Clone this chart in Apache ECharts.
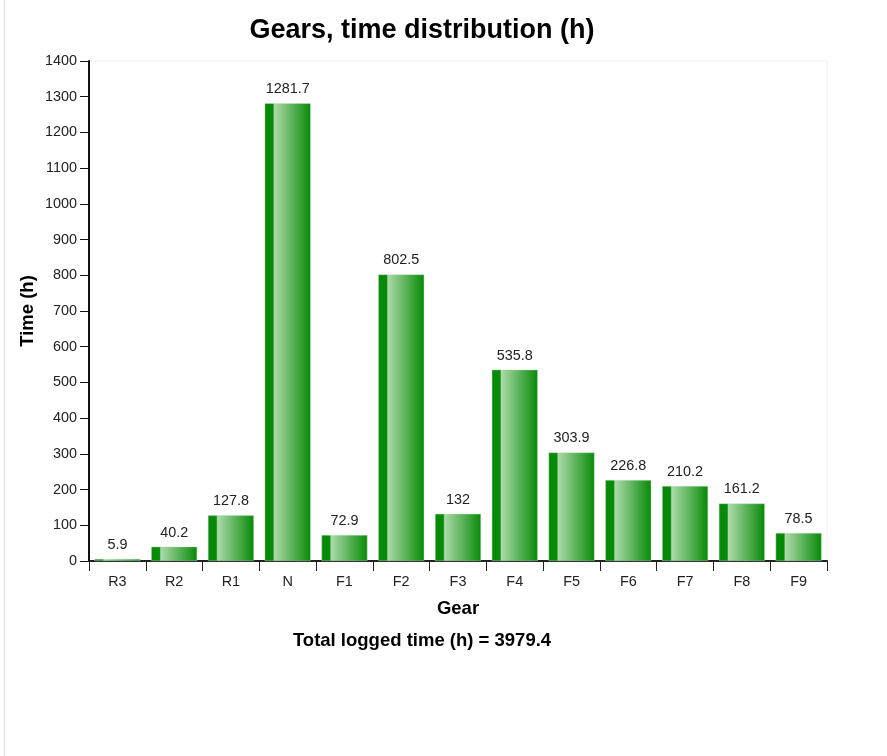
<!DOCTYPE html>
<html><head><meta charset="utf-8">
<script src="https://cdn.jsdelivr.net/npm/echarts@6/dist/echarts.min.js"></script>
<style>html,body{margin:0;padding:0;background:#fff}#c{width:887px;height:756px}</style>
</head><body><div id="c"></div>
<script>
const categories = ['R3','R2','R1','N','F1','F2','F3','F4','F5','F6','F7','F8','F9'];
const hours = [5.9, 40.2, 127.8, 1281.7, 72.9, 802.5, 132, 535.8, 303.9, 226.8, 210.2, 161.2, 78.5];
const totalLabel = 'Total logged time (h) = 3979.4';

const chart = echarts.init(document.getElementById('c'), null, {renderer: 'canvas'});
const font = 'Liberation Sans, Arial, sans-serif';
const barGrad = new echarts.graphic.LinearGradient(0, 0, 1, 0, [
  {offset: 0, color: '#078a07'},
  {offset: 0.18, color: '#078a07'},
  {offset: 0.21, color: '#acdaa9'},
  {offset: 1, color: '#078a07'}
]);
chart.setOption({
  animation: false,
  backgroundColor: '#fff',
  textStyle: {fontFamily: font},
  title: {
    text: 'Gears, time distribution (h)',
    left: 417, top: 12, textAlign: 'center',
    textStyle: {fontSize: 27, fontWeight: 'bold', color: '#000', fontFamily: font}
  },
  graphic: [
    {type: 'line', shape: {x1: 4.5, y1: 0, x2: 4.5, y2: 756}, style: {stroke: '#e0e0e0', lineWidth: 1}},
    {type: 'text', x: 422, y: 641, style: {text: totalLabel, textAlign: 'center', textVerticalAlign: 'middle', font: 'bold 18.5px ' + font, fill: '#000'}}
  ],
  grid: {left: 89, top: 61, right: 60, bottom: 195, show: true, borderColor: '#f0f0f0', borderWidth: 1},
  xAxis: {
    type: 'category', data: categories,
    name: 'Gear', nameLocation: 'middle', nameGap: 38,
    nameTextStyle: {fontSize: 18.5, fontWeight: 'bold', color: '#000', fontFamily: font},
    axisLine: {lineStyle: {color: '#222', width: 2}},
    axisTick: {show: true, alignWithLabel: false, length: 10, lineStyle: {color: '#222', width: 1}},
    axisLabel: {fontSize: 14.4, color: '#222', margin: 14, fontFamily: font}
  },
  yAxis: {
    type: 'value', min: 0, max: 1400, interval: 100,
    name: 'Time (h)', nameLocation: 'middle', nameGap: 52, nameRotate: 90, nameMoveOverlap: false,
    nameTextStyle: {fontSize: 18.5, fontWeight: 'bold', color: '#000', fontFamily: font},
    axisLine: {show: true, lineStyle: {color: '#111', width: 2}},
    axisTick: {show: true, length: 9, lineStyle: {color: '#111', width: 1}},
    axisLabel: {fontSize: 14.4, color: '#222', margin: 12, fontFamily: font, formatter: v => String(v)},
    splitLine: {show: false}
  },
  series: [{
    type: 'bar', data: hours, barCategoryGap: '19%',
    itemStyle: {color: barGrad, borderColor: 'rgba(190,225,190,0.9)', borderWidth: 0.5},
    label: {show: true, position: 'top', distance: 7, fontSize: 14.4, color: '#222', fontFamily: font}
  }]
});
</script></body></html>
